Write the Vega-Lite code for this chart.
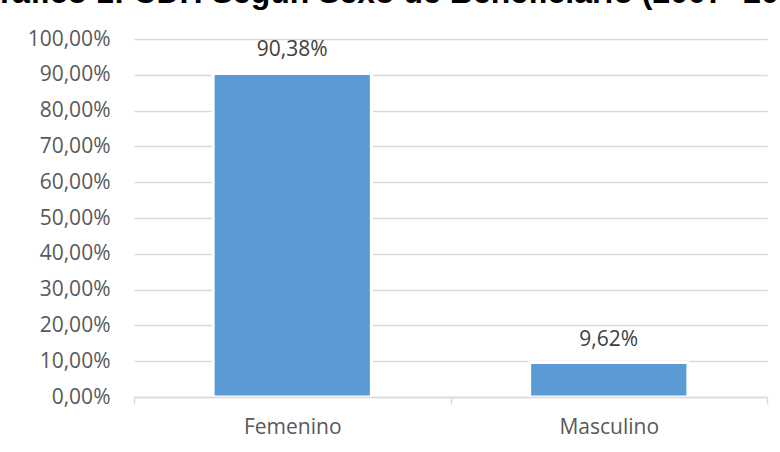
{
  "$schema": "https://vega.github.io/schema/vega-lite/v6.json",
  "width": 633,
  "height": 358,
  "autosize": {"type": "none"},
  "padding": {"left": 134, "top": 39, "right": 13, "bottom": 55},
  "background": "white",
  "title": {
    "text": "Gráfico 1: CDH Según Sexo de Beneficiario (2007- 2014)",
    "anchor": "start",
    "frame": "group",
    "font": "Liberation Sans",
    "fontSize": 32,
    "fontWeight": "bold",
    "color": "#000000",
    "baseline": "alphabetic",
    "offset": 0,
    "dx": -159,
    "dy": 7
  },
  "data": {
    "values": [
      {"sexo": "Femenino", "pct": 0.9038},
      {"sexo": "Masculino", "pct": 0.0962}
    ]
  },
  "encoding": {
    "x": {
      "field": "sexo",
      "type": "nominal",
      "sort": null,
      "scale": {"paddingInner": 0, "paddingOuter": 0},
      "axis": {
        "title": null,
        "labelAngle": 0,
        "tickBand": "extent",
        "ticks": true,
        "tickSize": 7,
        "tickColor": "#D9D9D9",
        "tickWidth": 1.5,
        "domainColor": "#D9D9D9",
        "domainWidth": 1.5,
        "labelFont": "Open Sans",
        "labelFontSize": 21,
        "labelColor": "#595959",
        "labelBaseline": "alphabetic",
        "labelPadding": 29,
        "zindex": 1
      }
    },
    "y": {
      "field": "pct",
      "type": "quantitative",
      "scale": {"domain": [0, 1], "nice": false},
      "axis": {
        "title": null,
        "format": ".2%",
        "values": [0, 0.1, 0.2, 0.3, 0.4, 0.5, 0.6, 0.7, 0.8, 0.9, 1],
        "grid": true,
        "gridColor": "#D9D9D9",
        "gridWidth": 1.5,
        "domain": false,
        "ticks": false,
        "labelPadding": 24,
        "labelFont": "Open Sans",
        "labelFontSize": 21,
        "labelColor": "#595959"
      }
    }
  },
  "layer": [
    {
      "mark": {"type": "bar", "color": "#5B9BD5", "stroke": "white", "strokeWidth": 3, "width": {"band": 0.5}}
    },
    {
      "mark": {"type": "text", "dy": -17, "baseline": "alphabetic", "font": "Open Sans", "fontSize": 21, "color": "#404040"},
      "encoding": {"text": {"field": "pct", "type": "quantitative", "format": ".2%"}}
    }
  ],
  "config": {
    "view": {"stroke": null},
    "locale": {
      "number": {"decimal": ",", "thousands": ".", "grouping": [3], "currency": ["", " €"]}
    }
  }
}
